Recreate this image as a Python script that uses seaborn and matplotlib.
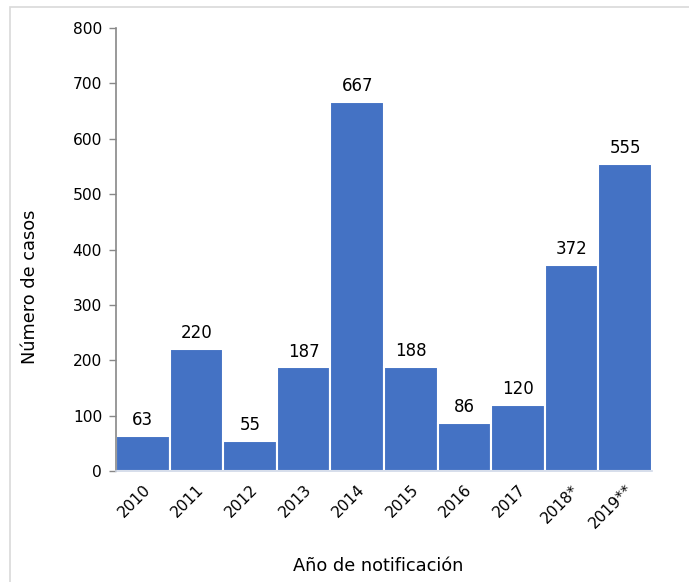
import matplotlib
matplotlib.use("Agg")
import matplotlib.pyplot as plt
import seaborn as sns
import pandas as pd
from matplotlib.patches import Rectangle

years = ["2010", "2011", "2012", "2013", "2014", "2015", "2016", "2017", "2018*", "2019**"]
cases = [63, 220, 55, 187, 667, 188, 86, 120, 372, 555]
yticks = [0, 100, 200, 300, 400, 500, 600, 700, 800]

df = pd.DataFrame({"year": years, "cases": cases})

sns.set_theme(style="white")
plt.rcParams["font.family"] = ["DejaVu Sans"]
plt.rcParams["text.color"] = "black"
plt.rcParams["xtick.color"] = "black"
plt.rcParams["ytick.color"] = "black"

fig = plt.figure(figsize=(6.89, 5.82), dpi=100)
ax = fig.add_axes([116/689, 1-471/582, (652-116)/689, (471-28)/582])

sns.barplot(data=df, x="year", y="cases", color="#4472C4", saturation=1,
            width=1.0, edgecolor="white", linewidth=1.5, ax=ax)

for i, v in enumerate(cases):
    ax.annotate(str(v), (i, v), xytext=(0, 5), textcoords="offset points",
                ha="center", va="bottom", fontsize=12, color="black")

ax.set_ylim(0, 800)
ax.set_xlim(-0.5, len(years) - 0.5)
ax.set_yticks(yticks)
ax.set_yticklabels([str(t) for t in yticks], fontsize=11.2)
ax.set_xticks(range(len(years)))
ax.set_xticklabels(years, rotation=45, ha="right", rotation_mode="anchor", fontsize=11.2)
ax.tick_params(axis="y", length=5, width=1, color="#888888", labelcolor="black", pad=5, left=True)
ax.tick_params(axis="x", length=0, pad=8, labelcolor="black")

for s in ["top", "right"]:
    ax.spines[s].set_visible(False)
ax.spines["left"].set_color("#888888")
ax.spines["left"].set_linewidth(1.2)
ax.spines["bottom"].set_color("#D0D8E8")
ax.spines["bottom"].set_linewidth(1.2)

ax.set_ylabel("")
ax.set_xlabel("")
fig.text(30/689, 1-287/582, "Número de casos", rotation=90, ha="center", va="center",
         fontsize=12.8, color="black")
fig.text(378/689, 1-566/582, "Año de notificación", ha="center", va="center",
         fontsize=12.8, color="black")

# light outer frame (top and left edges)
fig.patches.append(Rectangle((10/689, -0.1), 1.2, 1 - 7/582 + 0.1, transform=fig.transFigure,
                             fill=False, edgecolor="#D9D9D9", linewidth=1.2))

fig.savefig("out.png", dpi=100)
